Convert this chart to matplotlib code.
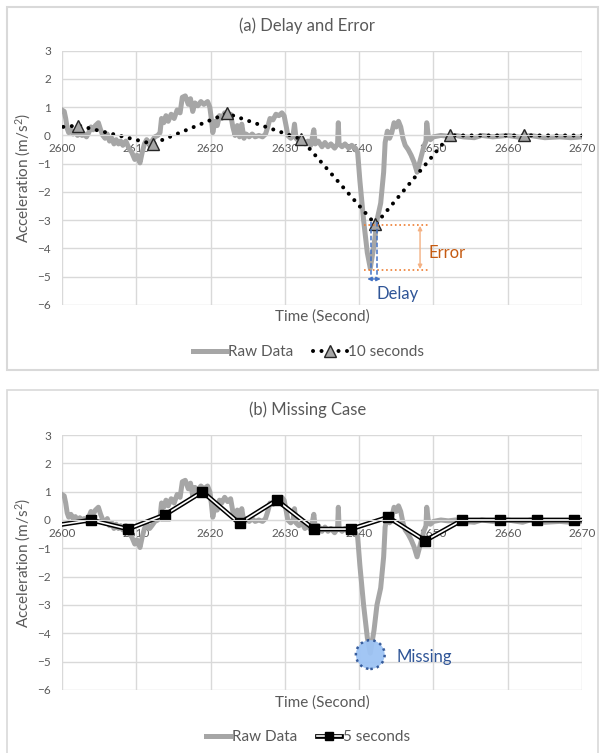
import numpy as np
import matplotlib.pyplot as plt
from matplotlib.lines import Line2D
from matplotlib.patches import Rectangle
from matplotlib.legend_handler import HandlerTuple

plt.rcParams['font.family'] = ['Lato', 'DejaVu Sans']
plt.rcParams['mathtext.fontset'] = 'custom'
plt.rcParams['mathtext.rm'] = 'Lato'
plt.rcParams['mathtext.it'] = 'Lato:italic'

# raw acceleration trace
raw_t = [2600.0, 2600.3, 2600.5, 2600.7, 2600.9, 2601.2, 2601.5, 2601.8, 2602.1, 2602.4,
         2602.7, 2603.0, 2603.3, 2603.6, 2603.9, 2604.2, 2604.5, 2604.9, 2605.2, 2605.5,
         2605.8, 2606.1, 2606.4, 2606.7, 2607.0, 2607.3, 2607.6, 2607.9, 2608.2, 2608.6,
         2609.0, 2609.4, 2609.8, 2610.1, 2610.5, 2610.8, 2611.1, 2611.4, 2611.8, 2612.1,
         2612.5, 2612.9, 2613.2, 2613.4, 2613.7, 2614.0, 2614.3, 2614.7, 2615.1, 2615.5,
         2615.9, 2616.2, 2616.6, 2617.0, 2617.3, 2617.6, 2617.9, 2618.3, 2618.7, 2619.1,
         2619.6, 2619.9, 2620.1, 2620.3, 2620.6, 2620.9, 2621.2, 2621.5, 2621.9, 2622.3,
         2622.7, 2623.0, 2623.3, 2623.6, 2623.9, 2624.2, 2624.5, 2624.8, 2625.2, 2625.6,
         2626.0, 2626.5, 2627.0, 2627.4, 2627.7, 2628.0, 2628.4, 2628.8, 2629.2, 2629.6,
         2629.9, 2630.2, 2630.4, 2630.8, 2631.1, 2631.3, 2631.5, 2631.9, 2632.3, 2632.7,
         2633.1, 2633.5, 2633.9, 2634.1, 2634.5, 2635.0, 2635.4, 2635.8, 2636.2, 2636.7,
         2637.1, 2637.2, 2637.3, 2637.7, 2638.1, 2638.6, 2639.0, 2639.5, 2639.8, 2640.1,
         2640.6, 2641.1, 2641.5, 2642.0, 2642.4, 2642.9, 2643.3, 2643.5, 2643.8, 2644.1,
         2644.4, 2644.7, 2645.0, 2645.3, 2645.6, 2645.9, 2646.2, 2646.6, 2647.0, 2647.4,
         2647.8, 2648.1, 2648.4, 2648.7, 2649.0, 2649.1, 2649.3, 2649.6, 2650.0, 2651.0,
         2652.0, 2653.0, 2654.0, 2655.5, 2656.5, 2658.0, 2660.0, 2662.0, 2663.0, 2665.0,
         2667.0, 2668.5, 2670.0]
raw_v = [0.9, 0.85, 0.6, 0.25, 0.1, 0.2, 0.05, 0.12, 0.0, 0.08,
         0.0, 0.05, -0.05, 0.1, 0.3, 0.2, 0.35, 0.45, 0.2, 0.0,
         -0.1, 0.05, -0.2, -0.1, -0.3, -0.15, -0.3, -0.2, -0.35, -0.2,
         -0.45, -0.6, -0.85, -0.7, -0.97, -0.6, -0.3, -0.15, -0.3, -0.2,
         -0.05, 0.0, 0.1, 0.6, 0.45, 0.7, 0.5, 0.75, 0.6, 0.9,
         0.8, 1.35, 1.4, 1.1, 1.3, 0.85, 1.15, 1.05, 1.2, 1.1,
         1.2, 1.0, 0.6, 0.1, 0.5, 0.35, 0.7, 0.6, 0.8, 0.65,
         0.75, 0.3, 0.0, 0.35, -0.05, 0.4, -0.1, 0.05, -0.05, 0.05,
         -0.05, 0.0, -0.05, 0.05, 0.3, 0.6, 0.55, 0.75, 0.7, 0.8,
         0.7, 0.3, 0.0, -0.1, 0.0, 0.4, -0.1, -0.2, -0.1, -0.3,
         -0.2, -0.35, 0.2, -0.3, -0.2, -0.4, -0.25, -0.4, -0.3, -0.45,
         -0.3, 0.45, -0.3, -0.4, -0.3, -0.45, -0.35, -0.45, -0.6, -1.6,
         -3.0, -4.15, -4.7, -3.9, -3.0, -2.4, -1.3, -0.25, 0.15, -0.1,
         0.1, 0.45, 0.3, 0.5, 0.3, -0.1, -0.35, -0.5, -0.7, -0.95,
         -1.3, -1.0, -0.7, -0.4, -0.2, 0.45, 0.0, -0.15, -0.05, 0.0,
         -0.03, 0.0, -0.05, -0.08, 0.0, -0.05, 0.0, -0.08, 0.0, -0.08,
         -0.05, -0.08, -0.05]

# 10 second sampling (panel a)
t10 = [2592.2, 2602.2, 2612.2, 2622.2, 2632.2, 2642.2, 2652.2, 2662.2, 2672.2]
v10 = [0.12, 0.35, -0.3, 0.78, -0.13, -3.15, 0.0, 0.0, 0.0]

# 5 second sampling (panel b)
t5 = [2598.9, 2603.9, 2608.9, 2613.9, 2618.9, 2623.9, 2628.9, 2633.9,
      2638.9, 2643.9, 2648.9, 2653.9, 2658.9, 2663.9, 2668.9, 2673.9]
v5 = [-0.2, 0.0, -0.32, 0.19, 1.0, -0.12, 0.7, -0.32,
      -0.32, 0.1, -0.73, 0.0, 0.0, 0.0, 0.0, 0.0]

xticks = [2600, 2610, 2620, 2630, 2640, 2650, 2660, 2670]
yticks = [-6, -5, -4, -3, -2, -1, 0, 1, 2, 3]

txt = '#595959'
grid = '#d9d9d9'
rawc = '#a6a6a6'
orange = '#c55a11'
blue = '#2f5597'
dots = (0, (0.01, 2.1))

fig = plt.figure(figsize=(6, 7.53), dpi=100)

# panel frames
fig.patches.append(Rectangle((0.011, 0.508), 0.985, 0.483, transform=fig.transFigure,
                             fill=False, edgecolor=grid, lw=1.5))
fig.patches.append(Rectangle((0.011, -0.01), 0.985, 0.492, transform=fig.transFigure,
                             fill=False, edgecolor=grid, lw=1.2))

ax1 = fig.add_axes([0.1033, 0.595, 0.8667, 0.3377])
ax2 = fig.add_axes([0.1033, 0.0837, 0.8667, 0.3386])


def style(ax, title, ty, xy):
    ax.set_xlim(2600, 2670)
    ax.set_ylim(-6, 3)
    ax.set_xticks(xticks)
    ax.set_yticks(yticks)
    ax.grid(True, color=grid, lw=1)
    ax.set_axisbelow(True)
    for s in ['top', 'right', 'left']:
        ax.spines[s].set_visible(False)
    ax.spines['bottom'].set_position(('data', 0))
    ax.spines['bottom'].set_color(grid)
    ax.tick_params(length=0, labelsize=8.5, labelcolor=txt)
    ax.tick_params(axis='y', pad=8)
    ax.tick_params(axis='x', pad=5.5)
    ax.set_ylabel('Acceleration (m/s$^{2}$)', fontsize=11, color=txt)
    ax.yaxis.set_label_coords(-0.056, 0.5)
    fig.text(0.537, xy, 'Time (Second)', fontsize=11, color=txt,
             ha='center', va='center')
    fig.text(0.512, ty, title, fontsize=12, color=txt,
             ha='center', va='center')


# (a) Delay and Error
style(ax1, '(a) Delay and Error', 0.9655, 0.579)
raw1, = ax1.plot(raw_t, raw_v, color=rawc, lw=3.6, solid_joinstyle='round')
ax1.plot(t10, v10, color='black', lw=2.9, linestyle=dots, dash_capstyle='round')
ax1.plot(t10, v10, linestyle='none', marker='^', ms=8.5, mfc=rawc, mec='#262626', mew=1)

ax1.plot([2640.7, 2649.5], [-3.18, -3.18], color='#ed7d31', lw=1.2, ls=':')
ax1.plot([2640.7, 2649.5], [-4.75, -4.75], color='#ed7d31', lw=1.2, ls=':')
ax1.annotate('', xy=(2648.2, -3.2), xytext=(2648.2, -4.73),
             arrowprops=dict(arrowstyle='<|-|>', color='#f4b183', lw=1,
                             mutation_scale=6, shrinkA=0, shrinkB=0))
ax1.text(2649.3, -4.15, 'Error', color=orange, fontsize=12, va='center')

for xd in [2641.6, 2642.4]:
    ax1.plot([xd, xd], [-3.05, -5.0], color='#4472c4', lw=1.1, ls=(0, (3, 1.5)))
ax1.annotate('', xy=(2641.1, -5.08), xytext=(2642.9, -5.08),
             arrowprops=dict(arrowstyle='<|-|>', color='#4472c4', lw=1,
                             mutation_scale=6, shrinkA=0, shrinkB=0))
ax1.text(2642.3, -5.6, 'Delay', color=blue, fontsize=12, va='center')

h10 = (Line2D([], [], color='black', lw=2.9, linestyle=dots, dash_capstyle='round'),
       Line2D([], [], linestyle='none', marker='^', ms=8, mfc=rawc, mec='#262626', mew=1))
ax1.legend([raw1, h10], ['Raw Data', '10 seconds'], loc='center', ncol=2,
           bbox_to_anchor=(0.514, 0.5325), bbox_transform=fig.transFigure,
           frameon=False, fontsize=11, labelcolor=txt, handlelength=2.2,
           handletextpad=0.1, columnspacing=1.3,
           handler_map={tuple: HandlerTuple(ndivide=1)})

# (b) Missing Case
style(ax2, '(b) Missing Case', 0.4555, 0.0664)
raw2, = ax2.plot(raw_t, raw_v, color=rawc, lw=3.6, solid_joinstyle='round')
ax2.plot(t5, v5, color='black', lw=3.4)
ax2.plot(t5, v5, color='white', lw=1.2)
ax2.plot(t5, v5, linestyle='none', marker='s', ms=6.5, color='black')

ax2.scatter([2641.5], [-4.75], s=430, facecolor='#9dc3f4', edgecolor=blue,
            linewidths=1.8, linestyle=':', alpha=0.95, zorder=3)
ax2.text(2645.0, -4.85, 'Missing', color=blue, fontsize=12, va='center')

h5 = (Line2D([], [], color='black', lw=3.4), Line2D([], [], color='white', lw=1.2),
      Line2D([], [], linestyle='none', marker='s', ms=6, color='black'))
ax2.legend([raw2, h5], ['Raw Data', '5 seconds'], loc='center', ncol=2,
           bbox_to_anchor=(0.513, 0.021), bbox_transform=fig.transFigure,
           frameon=False, fontsize=11, labelcolor=txt, handlelength=1.6,
           handletextpad=0.1, columnspacing=1.3,
           handler_map={tuple: HandlerTuple(ndivide=1)})

fig.savefig('out.png', dpi=100)
